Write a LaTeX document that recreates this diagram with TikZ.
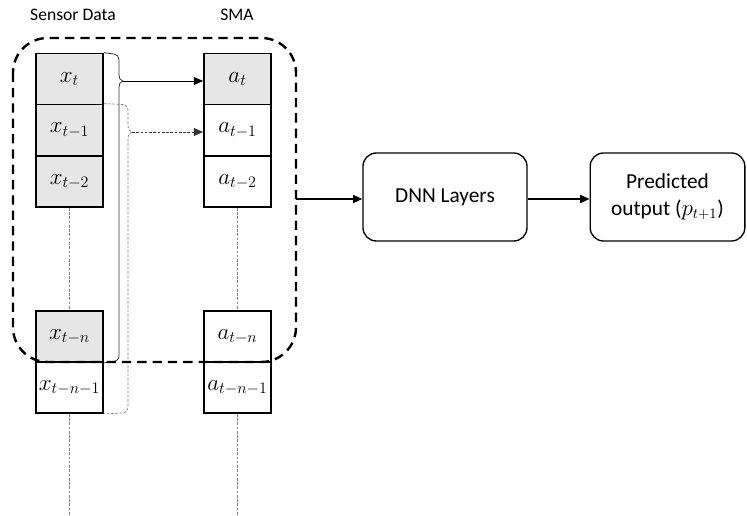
\documentclass[tikz,border=0pt]{standalone}
\usepackage{fontspec}
\setmainfont{Carlito}
\usetikzlibrary{arrows.meta}
\definecolor{cellgray}{HTML}{E7E6E6}
\definecolor{guide}{HTML}{7F7F7F}
\begin{document}
\begin{tikzpicture}[x=0.75pt,y=-0.75pt,
  cell/.style={draw=black, line width=1.3pt, minimum width=50.25pt, minimum height=38.25pt,
    inner sep=0pt, font=\fontsize{17}{18}\selectfont},
  shaded/.style={cell, fill=cellgray},
  plain/.style={cell, fill=white},
  block/.style={draw=black, line width=1pt, rounded corners=10pt, align=center,
    font=\fontsize{16}{20}\selectfont},
  flow/.style={line width=1.3pt, -{Triangle[length=7pt,width=6pt]}},
  feed/.style={line width=0.6pt, -{Triangle[length=7pt,width=6pt]}},
  guideline/.style={guide, line width=0.5pt, dash pattern=on 2pt off 1.2pt},
  title/.style={font=\fontsize{13.2}{16}\selectfont}
]
\useasboundingbox (0,0) rectangle (747,516);

% column headings
\node[title] (hsensor) at (73,15) {Sensor Data};
\node[title] (hsma) at (237,15) {SMA};

% sensor data column
\node[shaded] (x0) at (69.5,79) {$x_t$};
\node[shaded] (x1) at (69.5,130) {$x_{t-1}$};
\node[shaded] (x2) at (69.5,181.5) {$x_{t-2}$};
\node[shaded] (xn) at (69.5,336.5) {$x_{t-n}$};
\node[plain] (xn1) at (69.5,387.5) {$x_{t-n-1}$};

% moving average column
\node[shaded] (a0) at (237.5,79) {$a_t$};
\node[plain] (a1) at (237.5,130) {$a_{t-1}$};
\node[plain] (a2) at (237.5,181.5) {$a_{t-2}$};
\node[plain] (an) at (237.5,336.5) {$a_{t-n}$};
\node[plain] (an1) at (237.5,387.5) {$a_{t-n-1}$};

% omitted entries
\coordinate (xend) at (69.5,516);
\coordinate (aend) at (237.5,516);
\draw[guideline] (x2.south) -- (xn.north);
\draw[guideline] (xn1.south) -- (xend);
\draw[guideline] (a2.south) -- (an.north);
\draw[guideline] (an1.south) -- (aend);

% window for a_t : x_t ... x_{t-n}
\coordinate (b0tip) at (123,81);
\draw[line width=0.6pt, black!80]
  (x0.north east) -- (114,54) to[out=0,in=90] (119,60) -- (119,75)
  to[out=-90,in=180] (b0tip) to[out=180,in=90] (119,87) -- (119,356)
  to[out=-90,in=0] (113,361.5) -- (xn.south east);
\draw[feed] (b0tip) -- (a0.west |- b0tip);

% window for a_{t-1} : x_{t-1} ... x_{t-n-1}
\coordinate (b1tip) at (132,132);
\draw[guideline]
  (x1.north east) -- (123,104.5) to[out=0,in=90] (128,110) -- (128,126)
  to[out=-90,in=180] (b1tip) to[out=180,in=90] (128,138) -- (128,407)
  to[out=-90,in=0] (122,413) -- (xn1.south east);
\draw[guideline, -{Triangle[length=7pt,width=6pt]}, black!80] (b1tip) -- (a1.west |- b1tip);

% input window
\draw[line width=1.8pt, dash pattern=on 7pt off 4.5pt, rounded corners=26pt]
  (13,38) rectangle (296,362);
\coordinate (winout) at (296,199);

% network
\node[block, minimum width=123pt, minimum height=66pt] (dnn) at (445,197) {DNN Layers};
\node[block, minimum width=116pt, minimum height=66pt] (out) at (667.5,197)
  {Predicted\\output ($p_{t+1}$)};

\draw[flow] (winout) -- (dnn.west |- winout);
\draw[flow] (dnn.east |- winout) -- (out.west |- winout);
\end{tikzpicture}
\end{document}
